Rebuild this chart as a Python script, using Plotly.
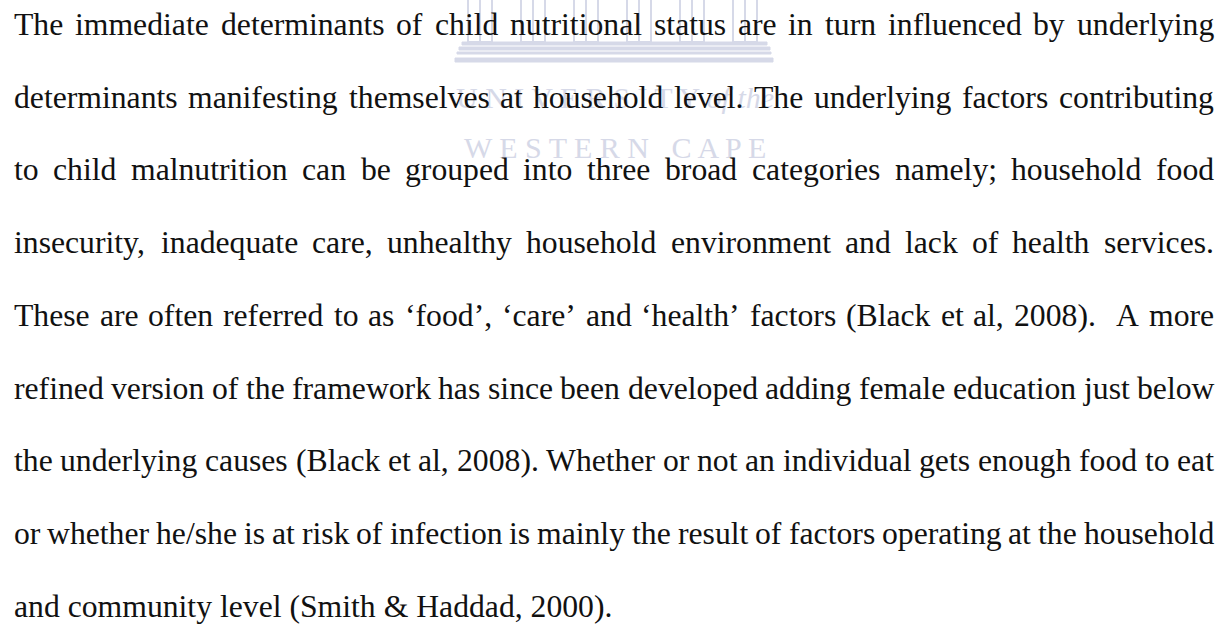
import plotly.graph_objects as go

# ---- content -------------------------------------------------------------
lines = [
    "The immediate determinants of child nutritional status are in turn influenced by underlying",
    "determinants manifesting themselves at household level. The underlying factors contributing",
    "to child malnutrition can be grouped into three broad categories namely; household food",
    "insecurity, inadequate care, unhealthy household environment and lack of health services.",
    "These are often referred to as \u2018food\u2019, \u2018care\u2019 and \u2018health\u2019 factors (Black et al, 2008).  A more",
    "refined version of the framework has since been developed adding female education just below",
    "the underlying causes (Black et al, 2008). Whether or not an individual gets enough food to eat",
    "or whether he/she is at risk of infection is mainly the result of factors operating at the household",
    "and community level (Smith & Haddad, 2000).",
]
justified = [True, True, True, True, True, True, True, True, False]

watermark_line1 = "U N I V E R S I T Y <i>of the</i>"
watermark_line2 = "W E S T E R N &nbsp; C A P E"
pillar_count = 6

# ---- Times / Liberation Serif advance widths (1/1000 em) -------------------
W = {' ': 250, '!': 333, '(': 333, ')': 333, ',': 250, '-': 333, '.': 250, '/': 278,
     ':': 278, ';': 278, '&': 778, '\u2018': 333, '\u2019': 333, "'": 180}
for d in "0123456789":
    W[d] = 500
W.update(dict(zip("ABCDEFGHIJKLMNOPQRSTUVWXYZ",
                  [722, 667, 667, 722, 611, 556, 722, 722, 333, 389, 722, 611, 889,
                   722, 722, 556, 722, 667, 556, 611, 722, 722, 944, 722, 722, 611])))
W.update(dict(zip("abcdefghijklmnopqrstuvwxyz",
                  [444, 500, 444, 500, 444, 333, 500, 500, 278, 278, 500, 278, 778,
                   500, 500, 500, 500, 333, 389, 278, 500, 500, 722, 500, 500, 444])))

FS = 31.7
FONT = "Liberation Serif, Times New Roman, serif"
LEFT, RIGHT = 13.0, 1213.0
BASE0, STEP = 35.0, 72.75
WM = "#d6d9e8"

def width(s):
    return sum(W.get(c, 500) for c in s) * FS / 1000.0

fig = go.Figure()
fig.update_layout(
    width=1227, height=628, margin=dict(l=0, r=0, t=0, b=0),
    paper_bgcolor="white", plot_bgcolor="white", showlegend=False,
    xaxis=dict(range=[0, 1227], visible=False, fixedrange=True),
    yaxis=dict(range=[628, 0], visible=False, fixedrange=True),
)

# ---- faint university watermark -------------------------------------------
shapes = []
px0, pstep, pw = 468, 53, 24
for i in range(pillar_count):
    x0 = px0 + i * pstep
    shapes.append(dict(type="rect", x0=x0, x1=x0 + pw, y0=-2, y1=42,
                       line=dict(color=WM, width=2), layer="below"))
    shapes.append(dict(type="line", x0=x0 + pw / 2, x1=x0 + pw / 2, y0=-2, y1=42,
                       line=dict(color=WM, width=2), layer="below"))
for (y0, y1, xa, xb) in [(42, 45, 462, 767), (47, 50, 459, 770), (52, 54, 457, 771), (58, 62, 455, 773)]:
    shapes.append(dict(type="rect", x0=xa, x1=xb, y0=y0, y1=y1,
                       line=dict(color=WM, width=1), fillcolor=WM, layer="below"))
fig.update_layout(shapes=shapes)

anns = []
anns.append(dict(x=615, y=97, xref="x", yref="y", text=watermark_line1, showarrow=False,
                 xanchor="center", yanchor="middle", borderpad=0,
                 font=dict(family=FONT, size=30, color=WM)))
anns.append(dict(x=615, y=147, xref="x", yref="y", text=watermark_line2, showarrow=False,
                 xanchor="center", yanchor="middle", borderpad=0,
                 font=dict(family=FONT, size=30, color=WM)))

# ---- body text (justified) ---------------------------------------------------
for i, (line, just) in enumerate(zip(lines, justified)):
    yc = BASE0 + STEP * i - 0.3375 * FS
    if not just:
        anns.append(dict(x=LEFT, y=yc, xref="x", yref="y", text=line.replace("&", "&amp;"),
                         showarrow=False, xanchor="left", yanchor="middle", borderpad=0,
                         font=dict(family=FONT, size=FS, color="#111111")))
        continue
    words = line.split(" ")
    ws = [width(w) for w in words]
    gap = (RIGHT - LEFT - sum(ws)) / (len(words) - 1)
    x = LEFT
    for w, wd in zip(words, ws):
        if w:
            anns.append(dict(x=x, y=yc, xref="x", yref="y", text=w.replace("&", "&amp;"),
                             showarrow=False, xanchor="left", yanchor="middle", borderpad=0,
                             font=dict(family=FONT, size=FS, color="#111111")))
        x += wd + gap

fig.update_layout(annotations=anns)
fig.write_html("out.html", config={"displayModeBar": False},
               post_script="document.body.style.margin='0';document.body.style.overflow='hidden';")
